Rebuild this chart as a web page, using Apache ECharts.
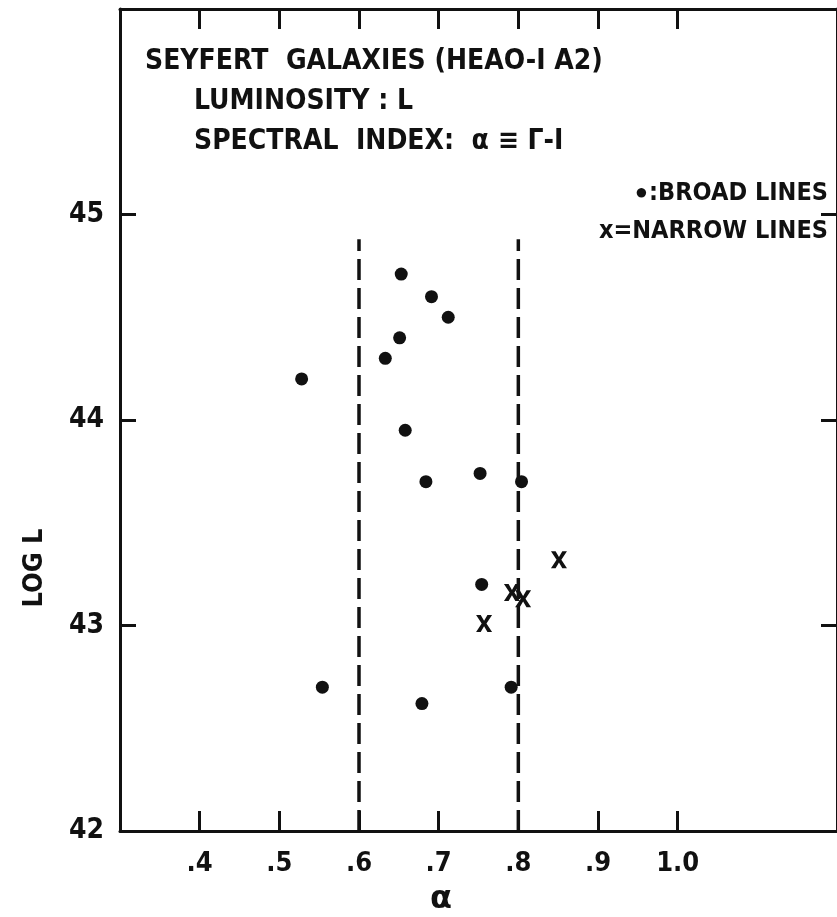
<!DOCTYPE html>
<html>
<head>
<meta charset="utf-8">
<script src="https://cdn.jsdelivr.net/npm/echarts@6/dist/echarts.min.js"></script>
<style>
html,body{margin:0;padding:0;background:#fff;}
#chart{width:837px;height:917px;}
</style>
</head>
<body>
<div id="chart"></div>
<script>
// ---- data ----
const broadAlpha = [0.653, 0.691, 0.712, 0.651, 0.633, 0.528, 0.658, 0.684, 0.752, 0.804, 0.754, 0.554, 0.679, 0.791];
const broadLogL  = [44.71, 44.60, 44.50, 44.40, 44.30, 44.20, 43.95, 43.70, 43.74, 43.70, 43.20, 42.70, 42.62, 42.70];
const narrowAlpha = [0.851, 0.792, 0.806, 0.757];
const narrowLogL  = [43.32, 43.16, 43.13, 43.01];
const xTickValues = [0.4, 0.5, 0.6, 0.7, 0.8, 0.9, 1.0];
const xTickLabels = ['.4', '.5', '.6', '.7', '.8', '.9', '1.0'];
const yTickValues = [42, 43, 44, 45];
const yTickLabels = ['42', '43', '44', '45'];
const dashAlpha = [0.6, 0.8];
const dashRange = [42, 44.88];
const titleLines = ['SEYFERT  GALAXIES (HEAO-I A2)', 'LUMINOSITY : L', 'SPECTRAL  INDEX:  α ≡ Γ-I'];
const legendBroad = ':BROAD LINES';
const legendNarrow = 'x=NARROW LINES';
const xName = 'α';
const yName = 'LOG L';

const INK = '#111';
const FONT = "'DejaVu Sans Condensed', 'DejaVu Sans', sans-serif";
const TICKFONT = "'DejaVu Sans Condensed', 'DejaVu Sans', sans-serif";

const broadData = broadAlpha.map((a, i) => [a, broadLogL[i]]);
const narrowData = narrowAlpha.map((a, i) => [a, narrowLogL[i]]);
const xPath = 'path://M0,0 L29,0 L50,34 L71,0 L100,0 L65,50 L100,100 L71,100 L50,66 L29,100 L0,100 L35,50 Z';

const chart = echarts.init(document.getElementById('chart'), null, {renderer: 'canvas'});

const axisLine = {show: true, lineStyle: {color: INK, width: 3}};
const baseX = {
  type: 'value', min: 0.3, max: 1.2,
  axisLine: axisLine,
  splitLine: {show: false},
  axisTick: {show: true, inside: true, length: 20, customValues: xTickValues, lineStyle: {color: INK, width: 3}}
};
const baseY = {
  type: 'value', min: 42, max: 46, interval: 1,
  axisLine: axisLine,
  splitLine: {show: false},
  axisTick: {show: true, inside: true, length: 16, customValues: [43, 44, 45], lineStyle: {color: INK, width: 3}}
};

const option = {
  backgroundColor: '#fff',
  animation: false,
  grid: {left: 120, right: -3, top: 9, bottom: 86},
  xAxis: [
    Object.assign({}, baseX, {
      position: 'bottom',
      axisLabel: {
        show: true, customValues: xTickValues, margin: 19,
        color: INK, fontFamily: TICKFONT, fontWeight: 'bold', fontSize: 27,
        formatter: v => xTickLabels[xTickValues.findIndex(t => Math.abs(t - v) < 1e-6)]
      }
    }),
    Object.assign({}, baseX, {position: 'top', axisLabel: {show: false}})
  ],
  yAxis: [
    Object.assign({}, baseY, {
      position: 'left',
      axisLabel: {
        show: true, customValues: yTickValues, margin: 16,
        color: INK, fontFamily: TICKFONT, fontWeight: 'bold', fontSize: 28,
        formatter: v => yTickLabels[yTickValues.findIndex(t => Math.abs(t - v) < 1e-6)]
      }
    }),
    Object.assign({}, baseY, {position: 'right', axisLabel: {show: false}})
  ],
  series: [
    ...dashAlpha.map(a => ({
      type: 'line', xAxisIndex: 0, yAxisIndex: 0,
      data: [[a, dashRange[0]], [a, dashRange[1]]],
      symbol: 'none', silent: true,
      lineStyle: {color: INK, width: 3.5, type: [21, 8]}
    })),
    {
      type: 'scatter', name: 'broad', xAxisIndex: 0, yAxisIndex: 0,
      data: broadData, symbol: 'circle', symbolSize: 13,
      itemStyle: {color: INK, opacity: 1}
    },
    {
      type: 'scatter', name: 'narrow', xAxisIndex: 0, yAxisIndex: 0,
      data: narrowData, symbol: xPath, symbolSize: [16, 17],
      itemStyle: {color: INK, opacity: 1}
    }
  ],
  graphic: [
    {type: 'text', x: 145, y: 62, style: {text: titleLines[0], fill: INK, font: "bold 28px " + FONT, textVerticalAlign: 'middle'}},
    {type: 'text', x: 194, y: 102, style: {text: titleLines[1], fill: INK, font: "bold 28px " + FONT, textVerticalAlign: 'middle'}},
    {type: 'text', x: 194, y: 142, style: {text: titleLines[2], fill: INK, font: "bold 28px " + FONT, textVerticalAlign: 'middle'}},
    {type: 'text', x: 828, y: 193, style: {
      text: '{d|●}' + legendBroad, fill: INK, font: "bold 25px " + FONT, textAlign: 'right', textVerticalAlign: 'middle',
      rich: {d: {fontSize: 22, fill: INK, padding: [0, 1, 0, 0]}}
    }},
    {type: 'text', x: 828, y: 231, style: {text: legendNarrow, fill: INK, font: "bold 25px " + FONT, textAlign: 'right', textVerticalAlign: 'middle'}},
    {type: 'text', x: 441, y: 900, style: {text: xName, fill: INK, font: "bold 32px 'DejaVu Sans', sans-serif", textAlign: 'center', textVerticalAlign: 'middle'}},
    {type: 'text', x: 35, y: 568, rotation: Math.PI / 2, style: {text: yName, fill: INK, font: "bold 27px " + FONT, textAlign: 'center', textVerticalAlign: 'middle'}}
  ]
};
chart.setOption(option);
</script>
</body>
</html>
